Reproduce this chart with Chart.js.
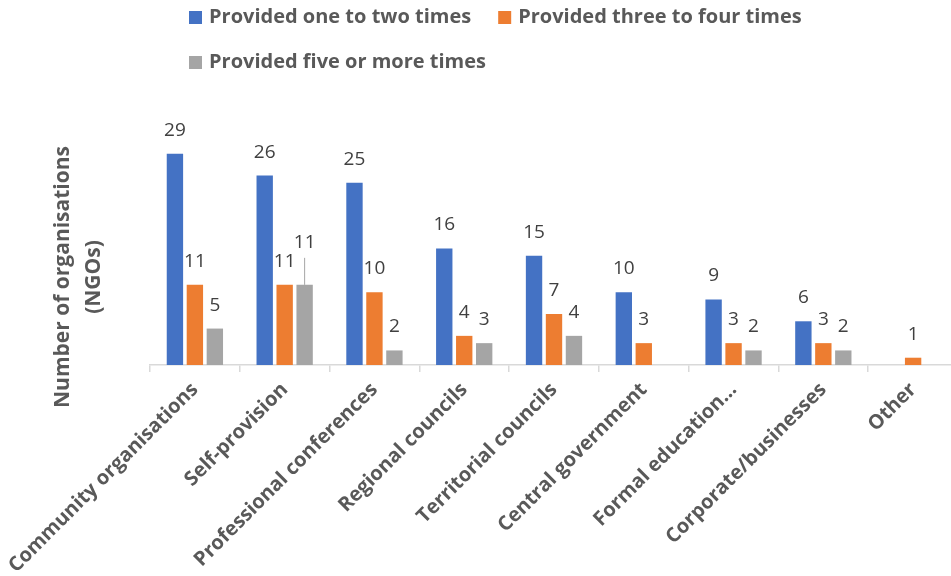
<!DOCTYPE html>
<html>
<head>
<meta charset="utf-8">
<script src="https://cdn.jsdelivr.net/npm/chart.js@4.4.1/dist/chart.umd.min.js"></script>
<style>
  html, body { margin: 0; padding: 0; overflow: hidden; background: #fff; }
  #wrap { width: 958px; height: 576px; }
</style>
</head>
<body>
<div id="wrap"><canvas id="chart"></canvas></div>
<script>
const categories = [
  'Community organisations', 'Self-provision', 'Professional conferences',
  'Regional councils', 'Territorial councils', 'Central government',
  'Formal education…', 'Corporate/businesses', 'Other'
]
const oneToTwo = [29, 26, 25, 16, 15, 10, 9, 6, null]
const threeToFour = [11, 11, 10, 4, 7, 3, 3, 3, 1]
const fiveOrMore = [5, 11, 2, 3, 4, null, 2, 2, null]
const seriesNames = [
  'Provided one to two times',
  'Provided three to four times',
  'Provided five or more times'
]
const yTitle = ['Number of organisations', '(NGOs)']

const textColor = '#595959'

// value labels above the bars (Excel style)
const valueLabels = {
  id: 'valueLabels',
  afterDatasetsDraw(chart) {
    const ctx = chart.ctx
    ctx.save()
    ctx.font = '19px "Open Sans"'
    ctx.fillStyle = '#404040'
    ctx.textAlign = 'center'
    chart.data.datasets.forEach((ds, i) => {
      chart.getDatasetMeta(i).data.forEach((bar, j) => {
        const v = ds.data[j]
        if (v == null) return
        let y = bar.y - 18
        // the self-provision "five or more" label was dragged up with a leader line
        if (i === 2 && j === 1) {
          ctx.strokeStyle = '#a5a5a5'
          ctx.lineWidth = 1
          ctx.beginPath()
          ctx.moveTo(bar.x, bar.y)
          ctx.lineTo(bar.x, bar.y - 27)
          ctx.stroke()
          y -= 19
        }
        ctx.fillText(String(v), bar.x, y)
      })
    })
    ctx.restore()
  }
}

// legend: two items on the first row, the third below, left aligned
const legendRows = {
  id: 'legendRows',
  afterDraw(chart) {
    const ctx = chart.ctx
    ctx.save()
    ctx.font = 'bold 20px "Open Sans"'
    ctx.textBaseline = 'middle'
    ctx.textAlign = 'left'
    const startX = 189
    const rowY = [17, 62]
    let x = startX
    let row = 0
    chart.data.datasets.forEach((ds, i) => {
      if (i === 2) { row = 1; x = startX }
      const y = rowY[row]
      ctx.fillStyle = ds.backgroundColor
      ctx.fillRect(x, y - 6, 13, 13)
      ctx.fillStyle = textColor
      ctx.fillText(ds.label, x + 20, y)
      x += 20 + ctx.measureText(ds.label).width + 27
    })
    ctx.restore()
  }
}

// rotated two-line y axis title
const yAxisTitle = {
  id: 'yAxisTitle',
  afterDraw(chart) {
    const ctx = chart.ctx
    ctx.save()
    ctx.font = 'bold 21px "Open Sans"'
    ctx.fillStyle = textColor
    ctx.textAlign = 'center'
    ctx.textBaseline = 'middle'
    ctx.translate(0, 277)
    ctx.rotate(-Math.PI / 2)
    ctx.fillText(yTitle[0], 0, 63)
    ctx.fillText(yTitle[1], 0, 94)
    ctx.restore()
  }
}

const colors = ['#4472C4', '#ED7D31', '#A5A5A5']
const values = [oneToTwo, threeToFour, fiveOrMore]

const config = {
  type: 'bar',
  data: {
    labels: categories,
    datasets: values.map((data, i) => ({
      label: seriesNames[i],
      data,
      backgroundColor: colors[i],
      categoryPercentage: 0.667,
      barPercentage: 0.82
    }))
  },
  options: {
    responsive: false,
    animation: false,
    layout: {padding: {left: 150, top: 110, right: 0, bottom: 0}},
    plugins: {
      legend: {display: false},
      tooltip: {enabled: false}
    },
    scales: {
      x: {
        afterFit: (scale) => {
          scale.height = 211
          // let the long first label hang past the plot edge, as in Excel
          scale.paddingLeft = 0
          scale.paddingRight = 0
        },
        border: {color: '#d9d9d9', width: 1.5},
        grid: {drawOnChartArea: false, color: '#d9d9d9', tickLength: 7, lineWidth: 1.5},
        ticks: {
          color: textColor,
          font: {family: 'Open Sans', size: 20, weight: 'bold'},
          minRotation: 45,
          maxRotation: 45,
          autoSkip: false,
          padding: 6
        }
      },
      y: {
        display: false,
        min: 0,
        max: 35
      }
    }
  },
  plugins: [valueLabels, legendRows, yAxisTitle]
}

const canvas = document.getElementById('chart')
canvas.width = 958
canvas.height = 576
new Chart(canvas, config)
</script>
</body>
</html>
